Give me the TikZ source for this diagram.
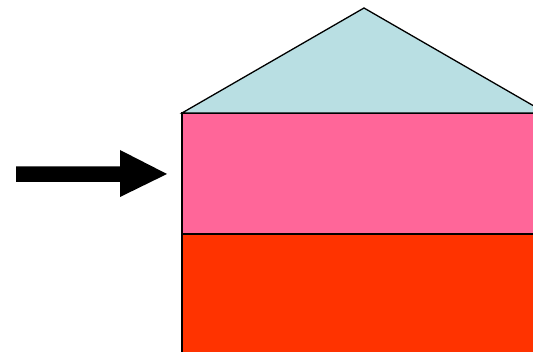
\documentclass[tikz,border=0pt]{standalone}
\usetikzlibrary{calc}
\definecolor{roofblue}{HTML}{B9DFE3}
\definecolor{wallpink}{HTML}{FF6699}
\definecolor{wallred}{HTML}{FF3300}
\tikzset{
  outline/.style={draw=black, line width=1.3pt, line join=miter},
  bigarrow/.style={fill=black, draw=none}
}
\begin{document}
\begin{tikzpicture}[x=1pt,y=-1pt]
\useasboundingbox (0,0) rectangle (533,352);
\clip (0,0) rectangle (533,352);
\coordinate (apex) at (364,8);
\coordinate (eaveL) at (182,113);
\coordinate (eaveR) at (546,113);
\coordinate (midL) at (182,234);
\coordinate (midR) at (546,234);
\coordinate (botL) at (182,360);
\coordinate (botR) at (546,360);
% red lower wall
\fill[wallred] (midL) rectangle (botR);
\draw[outline] (botL) -- (midL) -- (midR);
% pink upper wall
\fill[wallpink] (eaveL) rectangle (midR);
\draw[outline] (midL) -- (eaveL) -- (eaveR);
% roof
\fill[roofblue] (eaveL) -- (apex) -- (eaveR) -- cycle;
\draw[outline] (eaveL) -- (apex) -- (eaveR) -- cycle;
\draw[outline] (midL) -- (midR);
% arrow
\fill[bigarrow] (16,166.5) -- (120,166.5) -- (120,150) -- (167,174) -- (120,197) -- (120,182) -- (16,182) -- cycle;
\end{tikzpicture}
\end{document}
